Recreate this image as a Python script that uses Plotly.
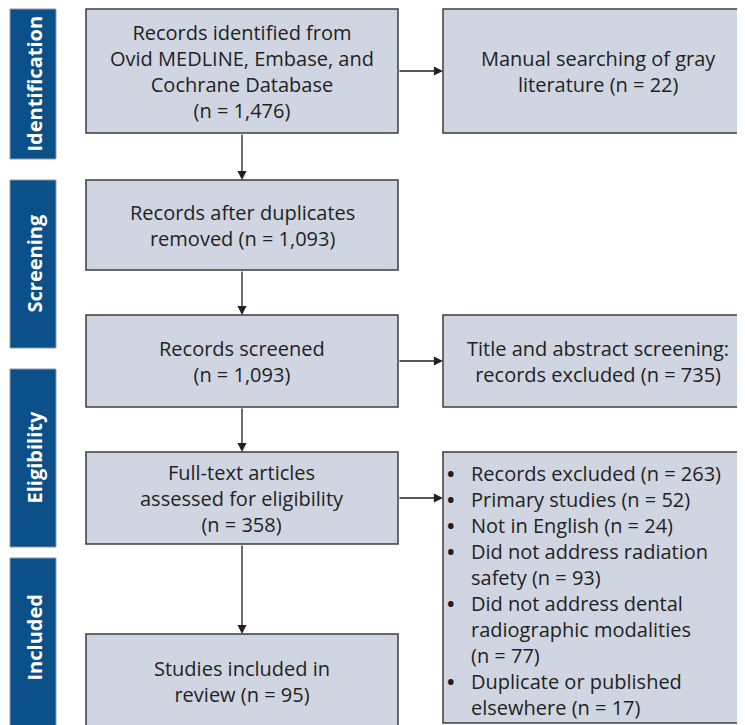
import plotly.graph_objects as go

# ---------------- data ----------------
stages = ["Identification", "Screening", "Eligibility", "Included"]

n_identified = 1476
n_gray = 22
n_after_dup = 1093
n_screened = 1093
n_title_excluded = 735
n_fulltext = 358
n_included = 95

excl_reasons = [
    ["Records excluded (n = {})"],
    ["Primary studies (n = {})"],
    ["Not in English (n = {})"],
    ["Did not address radiation", "safety (n = {})"],
    ["Did not address dental", "radiographic modalities", "(n = {})"],
    ["Duplicate or published", "elsewhere (n = {})"],
]
excl_counts = [263, 52, 24, 93, 77, 17]


def fmt(n):
    return "{:,}".format(n)


main_texts = [
    ["Records identified from", "Ovid MEDLINE, Embase, and", "Cochrane Database",
     "(n = {})".format(fmt(n_identified))],
    ["Records after duplicates", "removed (n = {})".format(fmt(n_after_dup))],
    ["Records screened", "(n = {})".format(fmt(n_screened))],
    ["Full-text articles", "assessed for eligibility", "(n = {})".format(fmt(n_fulltext))],
    ["Studies included in", "review (n = {})".format(fmt(n_included))],
]
side_texts = {
    0: ["Manual searching of gray", "literature (n = {})".format(fmt(n_gray))],
    2: ["Title and abstract screening:", "records excluded (n = {})".format(fmt(n_title_excluded))],
}

# ---------------- layout geometry (page pixel coordinates) ----------------
W, H = 745, 725
OFF = 8  # default page body margin
FILL = "#cfd6e2"
EDGE = "#3c3c3c"
DARK = "#0b5088"
TXT = "#231f20"
FONT = "Open Sans"
FS = 20
LH = 1.3 * FS  # plotly line spacing

stage_y = [(9, 159), (180, 348), (369, 547), (558, 740)]
stage_cy = [84, 264, 458, 638]
main_x = (86, 398)
main_y = [(9, 133), (180, 270), (315, 407), (452, 544), (634, 728)]
side_x = (443, 752)
side_y = {0: (9, 133), 2: (315, 407), 3: (452, 723)}
cx = 242

shapes = []
annotations = []


def text_block(lines, x, cy, align="center"):
    annotations.append(dict(x=x, y=cy, xref="x", yref="y", text="<br>".join(lines),
                            showarrow=False, align=align,
                            xanchor="center" if align == "center" else "left",
                            yanchor="middle",
                            font=dict(family=FONT, size=FS, color=TXT)))


for (y0, y1), cy, name in zip(stage_y, stage_cy, stages):
    shapes.append(dict(type="rect", xref="x", yref="y", x0=10, x1=56, y0=y0, y1=y1,
                       fillcolor=DARK, line=dict(color="#8e99a6", width=1)))
    annotations.append(dict(x=33.5, y=cy, xref="x", yref="y", text="<b>%s</b>" % name,
                            textangle=-90, showarrow=False,
                            font=dict(family=FONT, size=20, color="white")))

for (y0, y1), t in zip(main_y, main_texts):
    shapes.append(dict(type="rect", xref="x", yref="y", x0=main_x[0], x1=main_x[1], y0=y0, y1=y1,
                       fillcolor=FILL, line=dict(color=EDGE, width=1.5)))
    text_block(t, cx, (y0 + y1) / 2)

for k, (y0, y1) in side_y.items():
    shapes.append(dict(type="rect", xref="x", yref="y", x0=side_x[0], x1=side_x[1], y0=y0, y1=y1,
                       fillcolor=FILL, line=dict(color=EDGE, width=1.5)))
    if k in side_texts:
        text_block(side_texts[k], 598, (y0 + y1) / 2)

# bulleted exclusion list
all_lines = []
bullet_idx = []
for lines, cnt in zip(excl_reasons, excl_counts):
    bullet_idx.append(len(all_lines))
    for ln in lines:
        all_lines.append(ln.format(cnt) if "{}" in ln else ln)
first_y = 473
block_cy = first_y + (len(all_lines) - 1) / 2 * LH
annotations.append(dict(x=469, y=block_cy, xref="x", yref="y", text="<br>".join(all_lines),
                        showarrow=False, align="left", xanchor="left", yanchor="middle",
                        font=dict(family=FONT, size=FS, color=TXT)))
for bi in bullet_idx:
    annotations.append(dict(x=445, y=first_y + bi * LH, xref="x", yref="y", text="<b>•</b>",
                            showarrow=False, xanchor="left", yanchor="middle",
                            font=dict(family=FONT, size=FS, color=TXT)))


def arrow(x0, y0, x1, y1):
    annotations.append(dict(x=x1, y=y1, ax=x0, ay=y0, xref="x", yref="y", axref="x", ayref="y",
                            text="", showarrow=True, arrowhead=2, arrowsize=1.4,
                            arrowwidth=1.3, arrowcolor="#222222", standoff=0))


for i in range(len(main_y) - 1):
    arrow(cx, main_y[i][1], cx, main_y[i + 1][0])
arrow(main_x[1], 71, side_x[0], 71)
arrow(main_x[1], 361, side_x[0], 361)
arrow(main_x[1], 498, side_x[0], 498)

fig = go.Figure()
fig.update_layout(
    width=W, height=H, margin=dict(l=0, r=0, t=0, b=0),
    paper_bgcolor="white", plot_bgcolor="white",
    xaxis=dict(range=[OFF, W + OFF], visible=False, fixedrange=True),
    yaxis=dict(range=[H + OFF, OFF], visible=False, fixedrange=True),
    shapes=shapes, annotations=annotations, showlegend=False,
)
fig.write_html("out.html")
